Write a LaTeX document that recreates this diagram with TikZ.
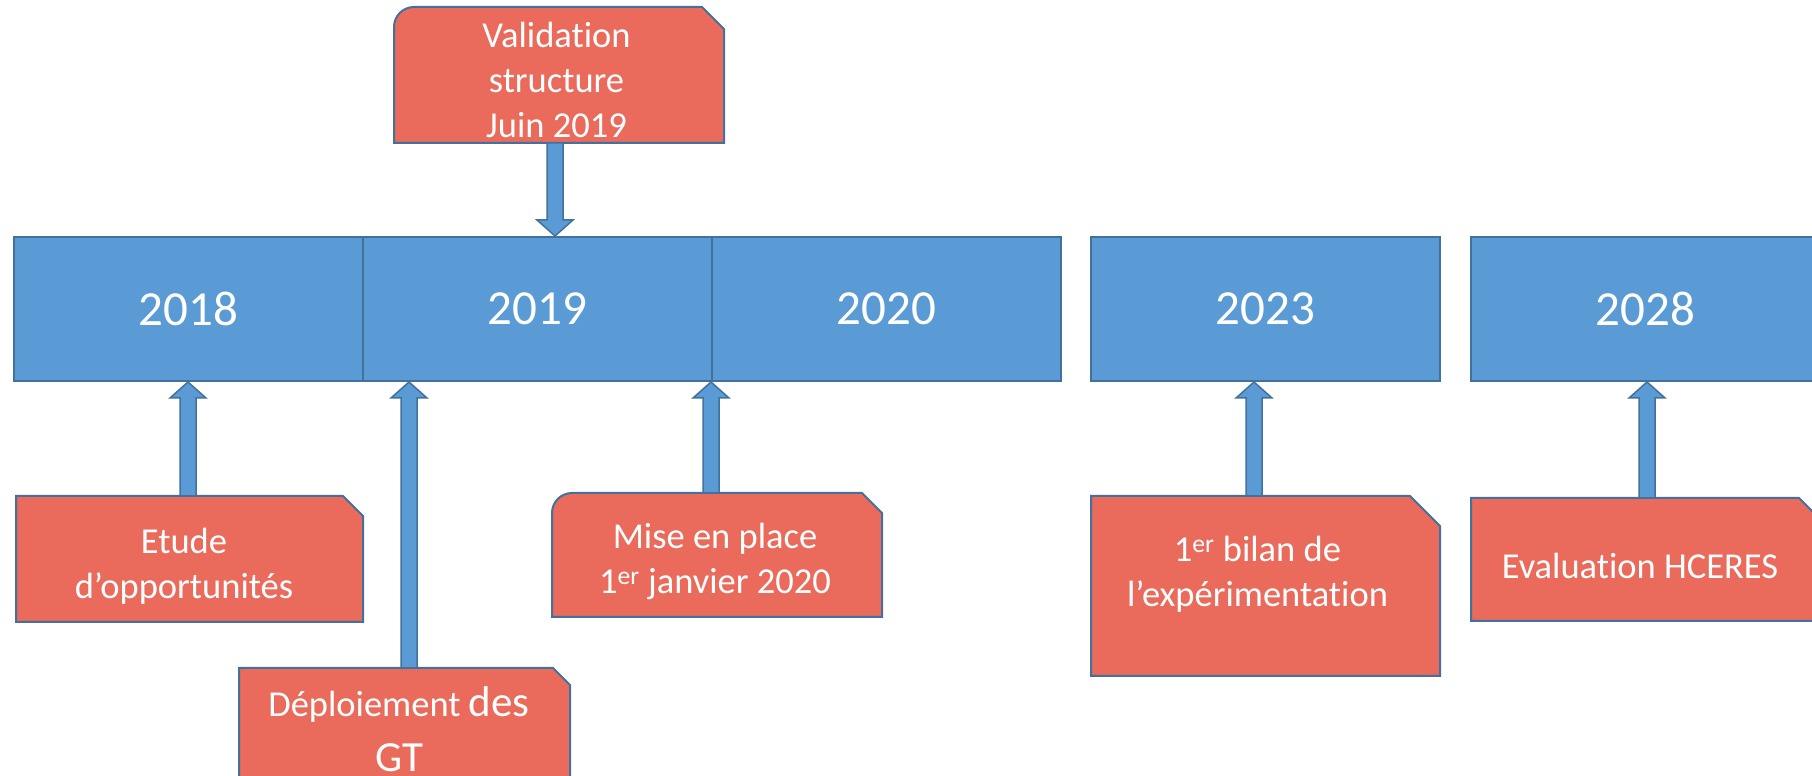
\documentclass[tikz,border=0pt]{standalone}
\usepackage{fontspec}
\setmainfont[Ligatures=NoCommon]{Carlito}
\usetikzlibrary{calc}
\definecolor{barblue}{RGB}{91,155,213}
\definecolor{edgeblue}{RGB}{65,113,156}
\definecolor{notered}{RGB}{234,107,91}
\newcommand\notefont{\fontsize{36.5}{45}\selectfont}
\newcommand\bignotefont{\fontsize{43}{50}\selectfont}
\newcommand\snipnote[2]{%
  \draw[notebox] (#1.south west) -- (#1.north west) -- ([xshift=-#2]#1.north east)
    -- ([yshift=-#2]#1.north east) -- (#1.south east) -- cycle;}
\newcommand\roundsnipnote[3]{%
  \draw[notebox] (#1.south west) -- ([yshift=-#3]#1.north west)
    arc[start angle=180, end angle=90, radius=#3] -- ([xshift=-#2]#1.north east)
    -- ([yshift=-#2]#1.north east) -- (#1.south east) -- cycle;}
\newcommand\blockarrow[2]{%
  \coordinate (hb) at ($(#2)!16pt!(#1)$);
  \draw[blockarrow] ($(#1)!8pt!90:(#2)$) -- ($(hb)!8pt!90:(#2)$) -- ($(hb)!18pt!90:(#2)$)
    -- (#2) -- ($(hb)!18pt!-90:(#2)$) -- ($(hb)!8pt!-90:(#2)$) -- ($(#1)!8pt!-90:(#2)$) -- cycle;}
\tikzset{
  year/.style={draw=edgeblue, fill=barblue, line width=2pt, minimum width=349pt, minimum height=144pt,
    inner sep=0pt, text=white, font=\fontsize{49}{59}\selectfont},
  notebox/.style={draw=edgeblue, fill=notered, line width=2pt},
  notearea/.style={inner sep=0pt, outer sep=0pt},
  notetext/.style={text=white, font=\notefont, align=center, inner sep=0pt},
  blockarrow/.style={draw=edgeblue, fill=barblue, line width=1.5pt}
}
\begin{document}
\begin{tikzpicture}[x=1pt,y=1pt]
\useasboundingbox (0,0) rectangle (1812,776);
\clip (0,0) rectangle (1812,776);
\foreach \yr/\cx in {2018/188.5,2019/537.5,2020/886.5,2023/1265.5,2028/1645.5}
  \node[year] (y\yr) at (\cx,467) {\yr};
\node[notearea, minimum width=330pt, minimum height=136pt] (valid) at (559,701) {};
\roundsnipnote{valid}{22pt}{20pt}
\node[notetext] (valid-text) at (556.5,696.5) {Validation\\structure\\Juin 2019};
\node[notearea, minimum width=347pt, minimum height=126pt] (etude) at (189.5,217) {};
\snipnote{etude}{20pt}
\node[notetext] (etude-text) at (184,209.5) {Etude\\d’opportunités};
\node[notearea, minimum width=331pt, minimum height=132pt] (deploi) at (404.5,42) {};
\snipnote{deploi}{17pt}
\node[notetext] (deploi-text) at (399,47) {Déploiement {\bignotefont des}\\[10pt]{\bignotefont GT}};
\node[notearea, minimum width=330pt, minimum height=124pt] (mise) at (717,221) {};
\roundsnipnote{mise}{20pt}{20pt}
\node[notetext] (mise-text) at (715,215) {Mise en place\\1\textsuperscript{er} janvier 2020};
\node[notearea, minimum width=349pt, minimum height=180pt] (bilan) at (1265.5,190) {};
\snipnote{bilan}{30pt}
\node[notetext] (bilan-text) at (1257.5,201.5) {1\textsuperscript{er} bilan de\\l’expérimentation};
\node[notearea, minimum width=349pt, minimum height=123pt] (evalu) at (1645.5,216.5) {};
\snipnote{evalu}{21pt}
\node[notetext] (evalu-text) at (1640,210.5) {Evaluation HCERES};
\coordinate (valid-foot) at ([xshift=-4pt]valid.south);
\coordinate (valid-tip) at (valid-foot |- y2019.north);
\blockarrow{valid-foot}{valid-tip}
\coordinate (etude-foot) at ([xshift=-1.5pt]etude.north);
\coordinate (etude-tip) at (etude-foot |- y2018.south);
\blockarrow{etude-foot}{etude-tip}
\coordinate (deploi-foot) at ([xshift=4.5pt]deploi.north);
\coordinate (deploi-tip) at (deploi-foot |- y2019.south);
\blockarrow{deploi-foot}{deploi-tip}
\coordinate (mise-foot) at ([xshift=-6pt]mise.north);
\coordinate (mise-tip) at (mise-foot |- y2020.south);
\blockarrow{mise-foot}{mise-tip}
\coordinate (bilan-foot) at ([xshift=-11.5pt]bilan.north);
\coordinate (bilan-tip) at (bilan-foot |- y2023.south);
\blockarrow{bilan-foot}{bilan-tip}
\coordinate (evalu-foot) at ([xshift=1.5pt]evalu.north);
\coordinate (evalu-tip) at (evalu-foot |- y2028.south);
\blockarrow{evalu-foot}{evalu-tip}
\end{tikzpicture}
\end{document}
